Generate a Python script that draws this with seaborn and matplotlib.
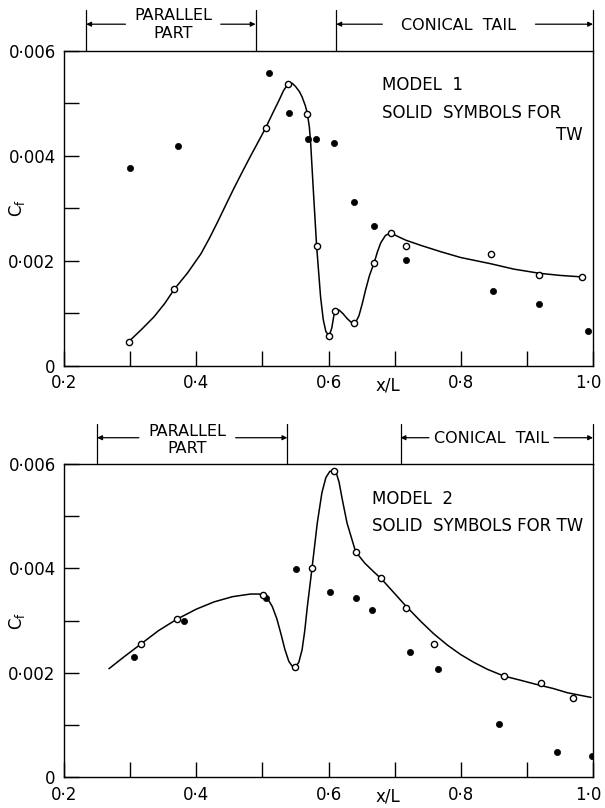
#!/usr/bin/env python3

import matplotlib
matplotlib.use('Agg')
import matplotlib.pyplot as plt
import matplotlib.transforms as mtransforms
import seaborn as sns


# model 1: open symbols, solid (TW) symbols and faired curve
M1_OPEN_X = [0.298, 0.367, 0.505, 0.539, 0.568, 0.582, 0.601, 0.610, 0.638, 0.669, 0.694, 0.717, 0.846, 0.919, 0.984]
M1_OPEN_Y = [0.00046, 0.00146, 0.00453, 0.00536, 0.00480, 0.00228, 0.00057, 0.00105, 0.00082, 0.00196, 0.00253, 0.00228, 0.00212, 0.00172, 0.00169]
M1_SOLID_X = [0.300, 0.373, 0.510, 0.540, 0.569, 0.581, 0.609, 0.638, 0.669, 0.717, 0.848, 0.918, 0.992]
M1_SOLID_Y = [0.00377, 0.00419, 0.00558, 0.00482, 0.00432, 0.00432, 0.00424, 0.00311, 0.00267, 0.00201, 0.00143, 0.00118, 0.00067]
M1_CURVE_X = [0.298, 0.318, 0.336, 0.352, 0.367, 0.387, 0.407, 0.420, 0.432, 0.445, 0.457, 0.470, 0.482,
              0.494, 0.505, 0.516, 0.525, 0.532, 0.539, 0.545, 0.550, 0.556, 0.560, 0.565, 0.568, 0.571,
              0.573, 0.577, 0.582, 0.588, 0.592, 0.596, 0.601, 0.605, 0.608, 0.611, 0.616, 0.622, 0.628,
              0.634, 0.638, 0.642, 0.646, 0.651, 0.656, 0.662, 0.669, 0.674, 0.679, 0.686, 0.694, 0.705,
              0.717, 0.740, 0.770, 0.800, 0.846, 0.880, 0.919, 0.950, 0.984]
M1_CURVE_Y = [0.00046, 0.00070, 0.00093, 0.00118, 0.00146, 0.00177, 0.00213, 0.00243, 0.00273, 0.00307,
              0.00338, 0.00370, 0.00399, 0.00427, 0.00453, 0.00482, 0.00505, 0.00524, 0.00537, 0.00538,
              0.00532, 0.00522, 0.00512, 0.00495, 0.00480, 0.00455, 0.00424, 0.00335, 0.00228, 0.00131,
              0.00088, 0.00065, 0.00057, 0.00072, 0.00095, 0.00105, 0.00106, 0.00099, 0.00090, 0.00083,
              0.00082, 0.00085, 0.00095, 0.00118, 0.00144, 0.00172, 0.00196, 0.00217, 0.00234, 0.00248,
              0.00253, 0.00246, 0.00239, 0.00229, 0.00217, 0.00206, 0.00194, 0.00184, 0.00176, 0.00172,
              0.00169]

# model 2
M2_OPEN_X = [0.316, 0.371, 0.501, 0.550, 0.575, 0.608, 0.641, 0.680, 0.717, 0.759, 0.865, 0.922, 0.969]
M2_OPEN_Y = [0.00255, 0.00303, 0.00349, 0.00212, 0.00400, 0.00587, 0.00432, 0.00381, 0.00325, 0.00255, 0.00194, 0.00181, 0.00151]
M2_SOLID_X = [0.306, 0.382, 0.505, 0.551, 0.602, 0.641, 0.666, 0.723, 0.765, 0.858, 0.946, 0.998]
M2_SOLID_Y = [0.00231, 0.00299, 0.00343, 0.00399, 0.00354, 0.00344, 0.00321, 0.00240, 0.00208, 0.00102, 0.00049, 0.00040]
M2_CURVE_X = [0.268, 0.290, 0.316, 0.343, 0.371, 0.400, 0.427, 0.455, 0.482, 0.495, 0.501, 0.508, 0.515,
              0.522, 0.528, 0.534, 0.540, 0.545, 0.550, 0.555, 0.560, 0.564, 0.568, 0.575, 0.583, 0.590,
              0.596, 0.602, 0.608, 0.612, 0.616, 0.621, 0.628, 0.641, 0.655, 0.668, 0.680, 0.700, 0.717,
              0.740, 0.759, 0.780, 0.800, 0.820, 0.840, 0.865, 0.890, 0.911, 0.940, 0.961, 0.997]
M2_CURVE_Y = [0.00208, 0.00230, 0.00255, 0.00281, 0.00303, 0.00322, 0.00336, 0.00346, 0.00351, 0.00351,
              0.00349, 0.00342, 0.00327, 0.00303, 0.00275, 0.00245, 0.00222, 0.00213, 0.00212, 0.00220,
              0.00244, 0.00280, 0.00327, 0.00400, 0.00487, 0.00545, 0.00574, 0.00586, 0.00587, 0.00582,
              0.00565, 0.00531, 0.00487, 0.00432, 0.00410, 0.00394, 0.00380, 0.00352, 0.00328, 0.00298,
              0.00275, 0.00253, 0.00235, 0.00220, 0.00207, 0.00194, 0.00186, 0.00179, 0.00170, 0.00162,
              0.00153]

X_TICKS = [0.2, 0.4, 0.6, 0.8, 1.0]
X_TICK_LABELS = ['0·2', '0·4', '0·6', '0·8', '1·0']
X_MINOR = [0.3, 0.5, 0.7, 0.9]
Y_TICKS = [0, 0.002, 0.004, 0.006]
Y_TICK_LABELS = ['0', '0·002', '0·004', '0·006']
Y_MINOR = [0.001, 0.003, 0.005]

FS = 12


def style_axes(ax):
    ax.set_xlim(0.2, 1.0)
    ax.set_ylim(0, 0.006)
    ax.set_xticks(X_TICKS)
    ax.set_xticklabels(X_TICK_LABELS)
    ax.set_xticks(X_MINOR, minor=True)
    ax.set_yticks(Y_TICKS)
    ax.set_yticklabels(Y_TICK_LABELS)
    ax.set_yticks(Y_MINOR, minor=True)
    ax.tick_params(which='both', direction='in', length=11, width=1, colors='black',
                   labelsize=FS, pad=6, top=False, right=False)
    # the last x label sits against the figure edge
    last = ax.get_xticklabels()[-1]
    last.set_transform(last.get_transform() +
                       mtransforms.ScaledTranslation(-5 / 100, 0, ax.figure.dpi_scale_trans))
    for sp in ax.spines.values():
        sp.set_visible(True)
        sp.set_color('black')
        sp.set_linewidth(1)
    ax.set_xlabel('')
    ax.set_ylabel(r'C$_\mathrm{f}$', fontsize=FS, color='black')
    ax.yaxis.set_label_coords(-0.07, 0.5)


def draw_panel(ax, cx, cy, ox, oy, sx, sy):
    sns.lineplot(x=cx, y=cy, sort=False, estimator=None, color='black', lw=1.1, ax=ax, zorder=2)
    sns.scatterplot(x=sx, y=sy, color='black', s=20, edgecolor='black', linewidth=0.5, ax=ax, zorder=3)
    sns.scatterplot(x=ox, y=oy, color='white', s=20, edgecolor='black', linewidth=1, ax=ax, zorder=4)
    style_axes(ax)
    ax.text(0.69, -0.062, 'x/L', transform=mtransforms.blended_transform_factory(ax.transData, ax.transAxes),
            ha='center', va='center', fontsize=FS, color='black')


def bracket(ax, x0, x1, a0, a1, h=0.128, arrow_y=0.084):
    trans = mtransforms.blended_transform_factory(ax.transData, ax.transAxes)
    for x in (x0, x1):
        ax.plot([x, x], [1, 1 + h], color='black', lw=0.9, transform=trans, clip_on=False)
    for tail, head in ((a0, x0), (a1, x1)):
        ax.annotate('', xy=(head, 1 + arrow_y), xytext=(tail, 1 + arrow_y),
                    xycoords=trans, textcoords=trans, annotation_clip=False,
                    arrowprops=dict(arrowstyle='-|>', color='black', lw=0.9,
                                    mutation_scale=7, shrinkA=0, shrinkB=0))


def headers(ax, par, par_arrows, con, con_arrows, par_y, con_y):
    trans = mtransforms.blended_transform_factory(ax.transData, ax.transAxes)
    bracket(ax, par[0], par[1], par_arrows[0], par_arrows[1])
    bracket(ax, con[0], con[1], con_arrows[0], con_arrows[1])
    xm = (par_arrows[0] + par_arrows[1]) / 2
    ax.text(xm, par_y[0], 'PARALLEL', transform=trans, ha='center', va='center', fontsize=FS - 0.5)
    ax.text(xm, par_y[1], 'PART', transform=trans, ha='center', va='center', fontsize=FS - 0.5)
    ax.text((con_arrows[0] + con_arrows[1]) / 2, con_y, 'CONICAL  TAIL', transform=trans,
            ha='center', va='center', fontsize=FS - 0.5)


def main():
    sns.set_style('ticks')
    plt.rcParams['font.family'] = ['DejaVu Sans']
    plt.rcParams['mathtext.fontset'] = 'dejavusans'
    plt.rcParams['text.color'] = 'black'
    plt.rcParams['axes.labelcolor'] = 'black'
    fig = plt.figure(figsize=(6.05, 8.08), dpi=100)
    ax1 = fig.add_axes([0.1058, 0.5474, 0.8744, 0.3899])
    ax2 = fig.add_axes([0.1058, 0.0380, 0.8744, 0.3877])

    draw_panel(ax1, M1_CURVE_X, M1_CURVE_Y, M1_OPEN_X, M1_OPEN_Y, M1_SOLID_X, M1_SOLID_Y)
    headers(ax1, (0.2336, 0.4897), (0.293, 0.437), (0.6118, 1.0), (0.6814, 0.913),
            (1.113, 1.056), 1.081)
    ax1.text(0.602, 0.891, 'MODEL  1', transform=ax1.transAxes, va='center', fontsize=FS)
    ax1.text(0.602, 0.803, 'SOLID  SYMBOLS FOR', transform=ax1.transAxes, va='center', fontsize=FS)
    ax1.text(0.981, 0.732, 'TW', transform=ax1.transAxes, va='center', ha='right', fontsize=FS)

    draw_panel(ax2, M2_CURVE_X, M2_CURVE_Y, M2_OPEN_X, M2_OPEN_Y, M2_SOLID_X, M2_SOLID_Y)
    headers(ax2, (0.2502, 0.5377), (0.3132, 0.4595), (0.709, 1.0), (0.7519, 0.941),
            (1.103, 1.051), 1.083)
    ax2.text(0.582, 0.887, 'MODEL  2', transform=ax2.transAxes, va='center', fontsize=FS)
    ax2.text(0.582, 0.802, 'SOLID  SYMBOLS FOR TW', transform=ax2.transAxes, va='center', fontsize=FS)

    fig.savefig('out.png', dpi=100)


if __name__ == '__main__':
    main()
